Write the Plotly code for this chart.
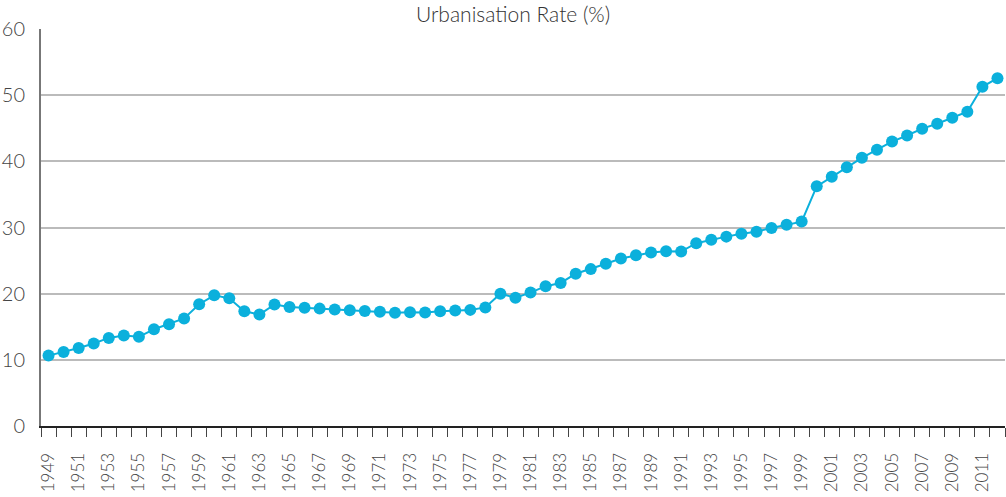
import plotly.graph_objects as go

years = list(range(1949, 2013))
rate = [10.64, 11.18, 11.78, 12.46, 13.31, 13.69, 13.48, 14.62, 15.39, 16.25,
        18.41, 19.75, 19.29, 17.33, 16.84, 18.37, 17.98, 17.86, 17.74, 17.62,
        17.50, 17.38, 17.26, 17.13, 17.20, 17.16, 17.34, 17.44, 17.55, 17.92,
        19.99, 19.39, 20.16, 21.13, 21.62, 23.01, 23.71, 24.52, 25.32, 25.81,
        26.21, 26.41, 26.37, 27.63, 28.14, 28.62, 29.04, 29.37, 29.92, 30.40,
        30.89, 36.22, 37.66, 39.09, 40.53, 41.76, 42.99, 43.90, 44.94, 45.68,
        46.59, 47.50, 51.27, 52.57]
tick_years = list(range(1949, 2012, 2))
tick_labels = [str(y) for y in tick_years]
y_ticks = [0, 10, 20, 30, 40, 50, 60]

FONT = "Lato, 'Open Sans', sans-serif"

fig = go.Figure(go.Scatter(
    x=years, y=rate, mode="lines+markers",
    line=dict(color="#0BB0DC", width=2),
    marker=dict(color="#0BB0DC", size=12),
    hoverinfo="x+y", cliponaxis=False,
))

fig.update_layout(
    width=1006, height=497,
    margin=dict(l=41, r=1, t=29, b=71),
    paper_bgcolor="white", plot_bgcolor="white",
    showlegend=False,
    title=dict(text="Urbanisation Rate (%)", x=0.51, xanchor="center",
               y=0.97, yanchor="middle", automargin=False,
               font=dict(family=FONT, size=21, color="#333333", weight=300)),
    xaxis=dict(
        range=[1948.5, 2012.5], tickmode="array", tickvals=tick_years,
        ticktext=tick_labels, tickangle=-90, ticks="", showgrid=False,
        zeroline=False, showline=True, linecolor="#222222", linewidth=2,
        automargin=False,
        tickfont=dict(family=FONT, size=17, color="#444444", weight=300),
        ticklabelstandoff=18,
        minor=dict(tick0=1948.5, dtick=1, ticks="outside", ticklen=9,
                   tickwidth=1, tickcolor="#444444", showgrid=False),
    ),
    yaxis=dict(
        range=[0, 60], tickvals=y_ticks, showgrid=True, gridcolor="#BBBBBB",
        gridwidth=1.5, zeroline=False, showline=True, linecolor="#777777",
        linewidth=2, ticks="", ticklabelstandoff=10, automargin=False,
        tickfont=dict(family=FONT, size=20, color="#444444", weight=300),
    ),
)

fig.write_html("out.html", config={"displayModeBar": False},
               post_script="document.body.style.margin='0px';document.body.style.overflow='hidden';")
